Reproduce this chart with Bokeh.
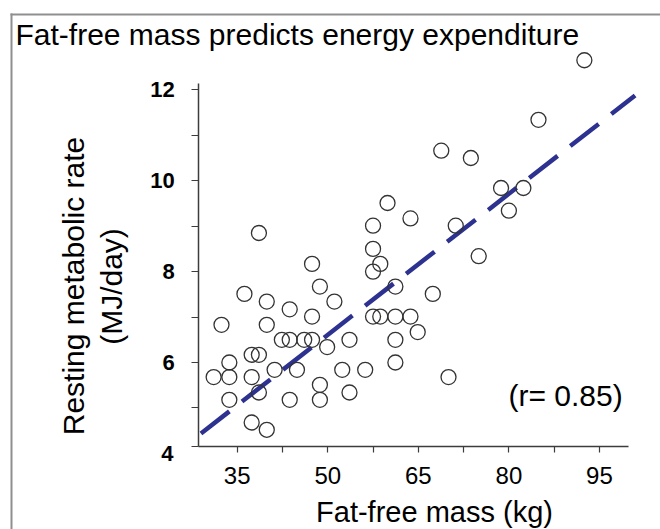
import math
from bokeh.plotting import figure
from bokeh.models import Range1d, FixedTicker, Label, BoxAnnotation
from bokeh.embed import file_html
from bokeh.resources import INLINE

# ---------------- data ----------------
fat_free_mass = [92.5, 84.9, 68.8, 73.7, 78.7, 82.4, 80.0, 59.9, 63.7, 71.2,
                 57.5, 38.6, 57.5, 58.7, 47.4, 57.5, 75.0, 48.7, 61.2, 36.2,
                 67.4, 39.9, 51.1, 43.7, 47.4, 57.5, 58.7, 61.2, 63.7, 32.4,
                 39.9, 64.9, 42.4, 43.7, 46.1, 47.4, 53.6, 61.2, 49.9, 37.4,
                 38.6, 33.7, 61.2, 31.1, 33.7, 37.4, 41.2, 44.9, 52.4, 56.2,
                 70.0, 48.7, 38.6, 53.6, 33.7, 43.7, 48.7, 37.4, 39.9]
resting_metabolic_rate = [12.65, 11.34, 10.66, 10.50, 9.84, 9.84, 9.34, 9.51, 9.17, 9.01,
                          9.01, 8.85, 8.50, 8.17, 8.17, 8.00, 8.34, 7.67, 7.67, 7.51,
                          7.51, 7.34, 7.34, 7.17, 7.01, 7.01, 7.01, 7.01, 7.01, 6.83,
                          6.83, 6.67, 6.50, 6.50, 6.50, 6.50, 6.50, 6.50, 6.34, 6.17,
                          6.17, 6.00, 6.00, 5.68, 5.68, 5.68, 5.84, 5.84, 5.84, 5.84,
                          5.68, 5.51, 5.34, 5.34, 5.18, 5.18, 5.18, 4.68, 4.52]

fit_slope = 0.1034
fit_intercept = 1.44
fit_x = [29.0, 100.9]
fit_y = [fit_intercept + fit_slope * v for v in fit_x]
r_text = "(r= 0.85)"

x_ticks = [35, 42.5, 50, 57.5, 65, 72.5, 80, 87.5, 95]
x_tick_labels = ["35", "", "50", "", "65", "", "80", "", "95"]
x_axis_min, x_axis_max = 28.64, 99.86
y_axis_min, y_axis_max = 4.152, 12.145
y_ticks = [y_axis_min, 5, 6, 7, 8, 9, 10, 11, 12]
y_tick_labels = ["", "", "6", "", "8", "", "10", "", "12"]
y_bottom_value, y_bottom_label = 4, "4"

title_text = "Fat-free mass predicts energy expenditure"
x_title = "Fat-free mass (kg)"
y_title_lines = ["Resting metabolic rate", "(MJ/day)"]

FONT = "Liberation Sans"
AXIS_COLOR = "#3c3c3c"
LINE_COLOR = "#2D3290"
BORDER_COLOR = "#8f8f8f"

W, H = 660, 529
# plot frame covers the whole canvas; axes are pinned with fixed_location
x_lo, x_hi = -4.20, 105.11
y_lo, y_hi = 2.326, 13.965

p = figure(width=W, height=H, output_backend="svg", toolbar_location=None,
           x_range=Range1d(x_lo, x_hi), y_range=Range1d(y_lo, y_hi),
           min_border=0, min_border_left=0, min_border_right=0,
           min_border_top=0, min_border_bottom=0)
p.outline_line_color = None
p.background_fill_color = "white"
p.border_fill_color = "white"
p.xgrid.visible = False
p.ygrid.visible = False

# axes
xa = p.xaxis[0]
xa.fixed_location = y_axis_min
xa.ticker = FixedTicker(ticks=x_ticks, minor_ticks=[])
xa.major_label_overrides = {t: l for t, l in zip(x_ticks, x_tick_labels)}
xa.bounds = (x_axis_min, x_axis_max)
xa.axis_line_color = AXIS_COLOR
xa.axis_line_width = 1.5
xa.major_tick_line_color = AXIS_COLOR
xa.major_tick_line_width = 1.2
xa.major_tick_in = 0
xa.major_tick_out = 6
xa.minor_tick_line_color = None
xa.major_label_text_font = FONT
xa.major_label_text_font_size = "24px"
xa.major_label_text_color = "black"
xa.major_label_standoff = 14

ya = p.yaxis[0]
ya.fixed_location = x_axis_min
ya.ticker = FixedTicker(ticks=y_ticks, minor_ticks=[])
ya.major_label_overrides = {t: l for t, l in zip(y_ticks, y_tick_labels)}
ya.bounds = (y_axis_min, y_axis_max)
ya.axis_line_color = AXIS_COLOR
ya.axis_line_width = 1.5
ya.major_tick_line_color = AXIS_COLOR
ya.major_tick_line_width = 1.2
ya.major_tick_in = 0
ya.major_tick_out = 7
ya.minor_tick_line_color = None
ya.major_label_text_font = FONT
ya.major_label_text_font_size = "22px"
ya.major_label_text_font_style = "bold"
ya.major_label_text_color = "black"
ya.major_label_standoff = 17

# regression line and points
p.line(fit_x, fit_y, line_color=LINE_COLOR, line_width=4.5, line_dash="36 16")
p.scatter(fat_free_mass, resting_metabolic_rate, size=15, marker="circle",
          fill_alpha=0, line_color="#333333", line_width=1.3)

# label of the lowest y tick, sitting just under the x axis line
p.add_layout(Label(x=173, y=y_bottom_value, x_units="screen", y_units="data",
                   text=y_bottom_label, text_align="right", text_baseline="middle",
                   text_font=FONT, text_font_size="22px", text_font_style="bold",
                   text_color="black"))

# outer panel border (left and top edges)
p.add_layout(BoxAnnotation(left=10, right=12, bottom=0, top=516,
                           left_units="screen", right_units="screen",
                           bottom_units="screen", top_units="screen",
                           fill_color=BORDER_COLOR, fill_alpha=1, line_color=None))
p.add_layout(BoxAnnotation(left=10, right=W, bottom=514, top=516,
                           left_units="screen", right_units="screen",
                           bottom_units="screen", top_units="screen",
                           fill_color=BORDER_COLOR, fill_alpha=1, line_color=None))

# texts
p.add_layout(Label(x=15, y=H - 34, x_units="screen", y_units="screen",
                   text=title_text, text_align="left", text_baseline="middle",
                   text_font=FONT, text_font_size="30px", text_color="black"))
p.add_layout(Label(x=434, y=H - 511, x_units="screen", y_units="screen",
                   text=x_title, text_align="center", text_baseline="middle",
                   text_font=FONT, text_font_size="29px", text_color="black"))
p.add_layout(Label(x=73, y=H - 285.5, x_units="screen", y_units="screen",
                   text=y_title_lines[0], text_align="center", text_baseline="middle",
                   angle=math.pi / 2, text_font=FONT, text_font_size="30px",
                   text_color="black"))
p.add_layout(Label(x=111, y=H - 286, x_units="screen", y_units="screen",
                   text=y_title_lines[1], text_align="center", text_baseline="middle",
                   angle=math.pi / 2, text_font=FONT, text_font_size="30px",
                   text_color="black"))
p.add_layout(Label(x=508, y=H - 395, x_units="screen", y_units="screen",
                   text=r_text, text_align="left", text_baseline="middle",
                   text_font=FONT, text_font_size="30px", text_color="black"))

open("out.html", "w").write(file_html(p, INLINE))
